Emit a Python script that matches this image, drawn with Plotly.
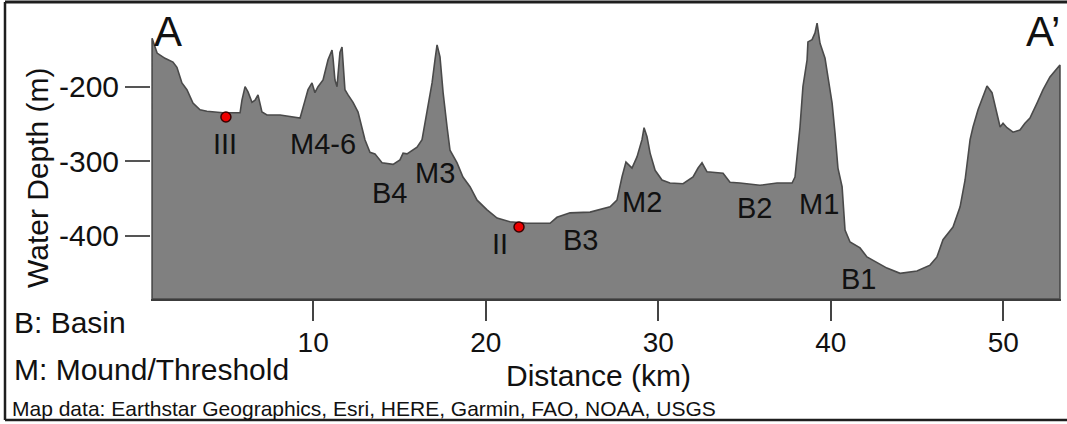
import plotly.graph_objects as go

# Bathymetric profile A-A' : distance along the section (km) and water depth (m)
distance_km = [
    0.66, 0.95, 1.41, 1.87, 2.10, 2.39, 2.68, 3.03, 3.44, 3.84, 4.19, 4.77, 5.35, 5.76,
    5.87, 6.05, 6.22, 6.45, 6.63, 6.80, 7.03, 7.32, 8.08, 8.83, 9.24, 9.53, 9.70, 9.93,
    10.10, 10.28, 10.57, 10.86, 11.09, 11.15, 11.26, 11.38, 11.55, 11.67, 11.73, 11.84,
    12.02, 12.31, 12.60, 12.83, 13.00, 13.29, 13.58, 13.99, 14.63, 15.03, 15.21, 15.44,
    16.02, 16.31, 16.60, 16.89, 17.06, 17.18, 17.35, 17.53, 17.76, 17.93, 18.34, 18.68,
    19.09, 19.50, 20.08, 20.66, 21.41, 22.39, 23.73, 24.13, 24.89, 26.05, 27.21, 27.61,
    27.90, 28.13, 28.48, 28.77, 29.06, 29.18, 29.35, 29.53, 29.82, 30.22, 30.68, 31.44,
    32.02, 32.31, 32.54, 32.83, 33.76, 34.16, 34.74, 35.90, 36.89, 37.76, 37.93, 38.05,
    38.22, 38.39, 38.63, 38.68, 38.92, 39.09, 39.21, 39.38, 39.67, 39.84, 40.08, 40.25,
    40.42, 40.66, 40.83, 41.12, 41.70, 42.10, 42.68, 43.26, 44.02, 45.00, 45.76, 46.16,
    46.51, 47.09, 47.50, 47.79, 48.08, 48.25, 48.54, 48.83, 49.06, 49.35, 49.64, 49.82,
    49.99, 50.22, 50.57, 50.97, 51.26, 51.55, 51.96, 52.31, 52.71, 53.29,
]
depth_m = [
    -135, -155, -162, -167, -174, -195, -204, -222, -231, -233, -234, -235, -235, -235,
    -218, -200, -207, -221, -218, -211, -234, -238, -238, -241, -242, -218, -204, -195,
    -208, -200, -191, -164, -151, -162, -191, -200, -154, -147, -164, -204,
    -211, -221, -234, -255, -271, -288, -290, -302, -304, -298, -289, -290,
    -281, -271, -231, -195, -164, -144, -160, -208, -254, -285, -302, -321,
    -334, -352, -365, -376, -381, -383, -383, -375, -369, -368, -361, -352,
    -321, -301, -309, -294, -271, -255, -267, -289, -312, -325, -329, -330,
    -321, -309, -302, -314, -316, -328, -329, -332, -329, -329, -321, -294,
    -254, -200, -164, -140, -137, -128, -115, -142, -162, -187, -222, -262,
    -309, -334, -392, -408, -416, -428, -436, -443, -450, -447, -439, -428,
    -405, -388, -361, -325, -271, -254, -231, -214, -199, -208, -235, -254,
    -249, -255, -261, -258, -249, -242, -222, -204, -187, -171,
]

# Sample sites shown as red dots
site_names = ["III", "II"]
site_km = [4.94, 21.93]
site_depth = [-240.6, -388.0]

# Feature labels (basins and mounds/thresholds) placed along the section
feature_names = ["III", "M4-6", "B4", "M3", "II", "B3", "M2", "B2", "M1", "B1"]
feature_km = [4.89, 10.57, 14.42, 17.06, 20.83, 25.47, 29.06, 35.61, 39.32, 41.61]
feature_depth = [-277, -277, -342, -315, -411, -405, -355, -362, -357, -457]

x_ticks = [10, 20, 30, 40, 50]
x_tick_labels = ["10", "20", "30", "40", "50"]
y_ticks = [-200, -300, -400]
y_tick_labels = ["-200", "-300", "-400"]

# ---- layout geometry (pixels) ----
W, H = 1067, 424
L, R, T, B = 151, 6, 10, 125
PLOT_W = W - L - R
PLOT_H = H - T - B
X_RANGE = [0.597, 53.35]
Y_RANGE = [-484.4, -97.3]
FONT = "Liberation Sans, Arial, sans-serif"


def px(x):
    """horizontal pixel -> paper coordinate"""
    return (x - L) / PLOT_W


def py(y):
    """vertical pixel -> paper coordinate"""
    return (H - B - y) / PLOT_H


fig = go.Figure()

# Filled terrain section closed down to the bottom of the depth axis
poly_x = [distance_km[0]] + distance_km + [distance_km[-1], distance_km[0]]
poly_y = [Y_RANGE[0]] + depth_m + [Y_RANGE[0], Y_RANGE[0]]
fig.add_trace(go.Scatter(
    x=poly_x, y=poly_y, mode="lines", fill="toself",
    fillcolor="#808080", line=dict(color="#4a4a4a", width=1.6),
    hoverinfo="skip", showlegend=False,
))

fig.add_trace(go.Scatter(
    x=site_km, y=site_depth, mode="markers", text=site_names,
    marker=dict(color="#ee0000", size=10, line=dict(color="#3a0000", width=1.5)),
    showlegend=False,
))

annotations = []
for name, xk, yd in zip(feature_names, feature_km, feature_depth):
    annotations.append(dict(
        x=xk, y=yd, xref="x", yref="y", text=name, showarrow=False,
        font=dict(family=FONT, size=29, color="#111111"),
        xanchor="center", yanchor="middle",
    ))

def note(text, x, y, size, xanchor="center", angle=0):
    annotations.append(dict(
        x=px(x), y=py(y), xref="paper", yref="paper", text=text, showarrow=False,
        font=dict(family=FONT, size=size, color="#111111"),
        xanchor=xanchor, yanchor="middle", textangle=angle,
    ))

note("A", 168, 31, 42)
note("A\u2019", 1043, 31, 42)
note("Water Depth (m)", 37, 178, 30, angle=-90)
note("Distance (km)", 598, 375, 30)
note("B: Basin", 12, 322, 30, xanchor="left")
note("M: Mound/Threshold", 12, 369, 30, xanchor="left")
note("Map data: Earthstar Geographics, Esri, HERE, Garmin, FAO, NOAA, USGS",
     10, 408, 21, xanchor="left")

# Outer frame (left, top and bottom edges)
frame = dict(color="#1e1e1e", width=2.5)
shapes = [
    dict(type="line", xref="paper", yref="paper", x0=px(5), x1=px(5), y0=py(2), y1=py(420), line=frame),
    dict(type="line", xref="paper", yref="paper", x0=px(5), x1=px(1070), y0=py(2), y1=py(2), line=dict(color="#1e1e1e", width=3)),
    dict(type="line", xref="paper", yref="paper", x0=px(5), x1=px(1070), y0=py(420), y1=py(420), line=frame),
]

fig.update_layout(
    width=W, height=H,
    margin=dict(l=L, r=R, t=T, b=B),
    paper_bgcolor="white", plot_bgcolor="white",
    annotations=annotations, shapes=shapes,
    font=dict(family=FONT, color="#111111"),
    xaxis=dict(
        range=X_RANGE, tickvals=x_ticks, ticktext=x_tick_labels,
        showgrid=False, zeroline=False,
        showline=True, linecolor="#3c3c3c", linewidth=2,
        ticks="outside", ticklen=20, tickwidth=1.5, tickcolor="#444444",
        ticklabelstandoff=-3,
        tickfont=dict(family=FONT, size=28, color="#111111"),
    ),
    yaxis=dict(
        range=Y_RANGE, tickvals=y_ticks, ticktext=y_tick_labels,
        showgrid=False, zeroline=False, showline=False,
        ticks="outside", ticklen=25, tickwidth=1.5, tickcolor="#555555",
        tickfont=dict(family=FONT, size=30, color="#111111"),
    ),
)

fig.write_html("out.html")
